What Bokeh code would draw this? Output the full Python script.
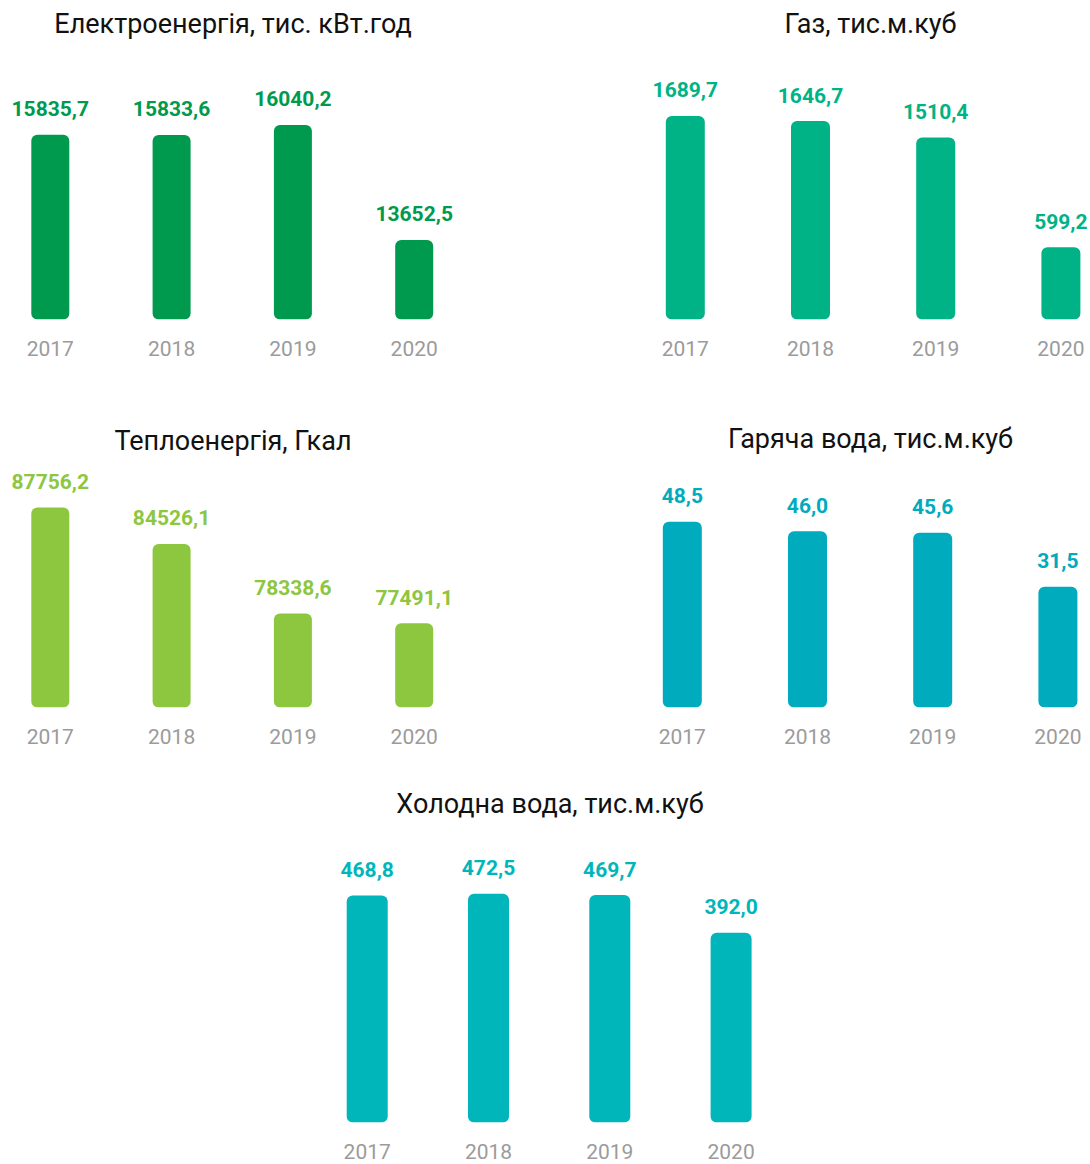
from bokeh.plotting import figure
from bokeh.layouts import row, column
from bokeh.models import FixedTicker, ColumnDataSource, Range1d, Spacer
from bokeh.core.properties import value
from bokeh.embed import file_html
from bokeh.resources import INLINE

# ---------------- data ----------------
years = [2017, 2018, 2019, 2020]
year_labels = ["2017", "2018", "2019", "2020"]

electricity = [15835.7, 15833.6, 16040.2, 13652.5]
gas = [1689.7, 1646.7, 1510.4, 599.2]
heat = [87756.2, 84526.1, 78338.6, 77491.1]
hot_water = [48.5, 46.0, 45.6, 31.5]
cold_water = [468.8, 472.5, 469.7, 392.0]

title_electricity = "Електроенергія, тис. кВт.год"
title_gas = "Газ, тис.м.куб"
title_heat = "Теплоенергія, Гкал"
title_hot = "Гаряча вода, тис.м.куб"
title_cold = "Холодна вода, тис.м.куб"

# ---------------- styles ----------------
FONT = "Roboto"
C_ELEC = "#009a4e"
C_GAS = "#00b386"
C_HEAT = "#8dc63f"
C_HOT = "#00abbe"
C_COLD = "#00b6bb"
C_YEAR = "#9b9b9b"
C_TITLE = "#111111"


def fmt(v):
    return f"{v:.1f}".replace(".", ",")


def make_chart(title, vals, color, y_start, units_per_px, frame_w, frame_h,
               first_center_px, px_per_year, bar_px, top_border, bottom_border,
               title_standoff=10):
    x_start = years[0] - first_center_px / px_per_year
    x_end = x_start + frame_w / px_per_year
    y_end = y_start + frame_h * units_per_px
    p = figure(frame_width=frame_w, frame_height=frame_h,
               x_range=Range1d(x_start, x_end), y_range=Range1d(y_start, y_end),
               output_backend="svg", toolbar_location=None,
               y_axis_location=None, x_axis_location="below",
               min_border_left=0, min_border_right=0,
               min_border_top=top_border, min_border_bottom=bottom_border,
               title=title)
    p.outline_line_color = None
    p.background_fill_color = "white"
    p.border_fill_color = "white"
    p.grid.visible = False

    p.title.align = "center"
    p.title.text_font = FONT
    p.title.text_font_size = "27px"
    p.title.text_font_style = "normal"
    p.title.text_color = C_TITLE
    p.title.standoff = title_standoff

    ax = p.xaxis[0]
    ax.ticker = FixedTicker(ticks=years)
    ax.major_label_overrides = {y: s for y, s in zip(years, year_labels)}
    ax.axis_line_color = None
    ax.major_tick_line_color = None
    ax.minor_tick_line_color = None
    ax.major_tick_in = 0
    ax.major_tick_out = 0
    ax.major_label_standoff = 21
    ax.major_label_text_font = FONT
    ax.major_label_text_font_size = "21px"
    ax.major_label_text_color = C_YEAR

    src = ColumnDataSource(dict(x=years, top=vals, label=[fmt(v) for v in vals]))
    p.vbar(x="x", top="top", bottom=y_start, width=bar_px / px_per_year,
           source=src, fill_color=color, line_color=None, border_radius=6)
    p.text(x="x", y="top", text="label", source=src,
           text_align="center", text_baseline="alphabetic", y_offset=-26,
           text_font=value(FONT), text_font_style="bold",
           text_font_size="21px", text_color=color)
    return p


# row 1: figure tops at 0, frames 44..319
f1 = make_chart(title_electricity, electricity, C_ELEC, 12000, 20.77,
                465, 275, 49.8, 121.3, 38, 44, 71)
f2 = make_chart(title_gas, gas, C_GAS, 0, 8.3,
                440, 275, 34.8, 125.2, 39, 44, 71)
# row 2: figure tops at 390, frames 461..707
f3 = make_chart(title_heat, heat, C_HEAT, 70000, 88.8,
                465, 246, 49.8, 121.3, 38, 71, 63)
f4 = make_chart(title_hot, hot_water, C_HOT, 0, 0.261,
                440, 246, 31.8, 125.2, 39, 71, 63, title_standoff=14)
# row 3: figure top at 770 - 4, frame 820..1118
f5 = make_chart(title_cold, cold_water, C_COLD, 0, 2.065,
                499, 298, 66.7, 121.3, 41, 54, 46)

layout = column(
    row(f1, Spacer(width=185, height=10), f2),
    row(f3, Spacer(width=185, height=10), f4),
    row(Spacer(width=300, height=10), f5),
)

open("out.html", "w").write(file_html(layout, INLINE, title="Енергоспоживання"))
